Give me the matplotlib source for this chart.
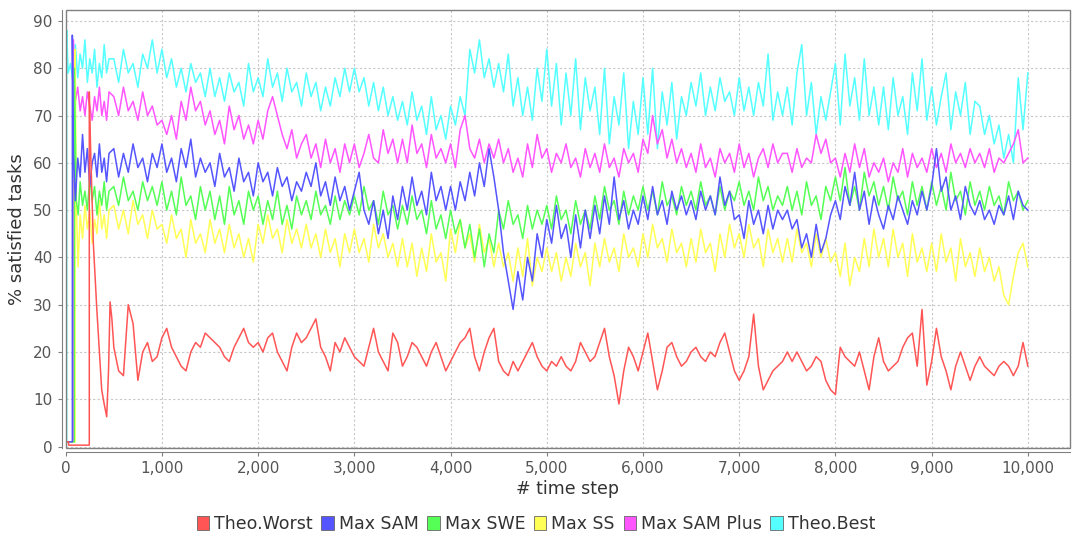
import numpy as np
import matplotlib
matplotlib.use("Agg")
import matplotlib.pyplot as plt
from matplotlib.patches import Patch, Rectangle
from matplotlib.ticker import StrMethodFormatter, MultipleLocator

# values (start-up part with irregular steps, then every 50 steps)
body_steps = np.arange(500, 10001, 50)

worst_head_t = [0, 30, 30, 245, 245, 260, 287, 322, 350, 374, 400, 426, 445, 461, 480]
worst_head_v = [1, 1, 0.3, 0.3, 75, 62, 43, 29.5, 20, 12, 9, 6.3, 16, 30.6, 27]
worst = [
    21, 16, 15, 30, 26, 14, 20, 22, 18, 19,
    23, 25, 21, 19, 17, 16, 20, 22, 21, 24,
    23, 22, 21, 19, 18, 21, 23, 25, 22, 21,
    22, 20, 23, 24, 20, 18, 16, 21, 24, 22,
    23, 25, 27, 21, 19, 16, 22, 20, 23, 21,
    19, 18, 17, 21, 25, 20, 18, 16, 24, 22,
    17, 19, 22, 21, 19, 17, 20, 22, 19, 16,
    18, 20, 22, 23, 25, 19, 16, 20, 23, 25,
    18, 16, 15, 18, 16, 18, 20, 22, 19, 17,
    16, 18, 17, 19, 17, 16, 18, 22, 20, 18,
    19, 22, 25, 19, 15, 9, 16, 21, 19, 16,
    20, 24, 18, 12, 16, 21, 22, 19, 17, 18,
    20, 21, 19, 18, 20, 19, 22, 24, 20, 16,
    14, 16, 19, 28, 17, 12, 14, 16, 17, 18,
    20, 18, 20, 18, 16, 17, 19, 18, 14, 12,
    11, 21, 19, 18, 17, 20, 16, 12, 19, 23,
    18, 16, 17, 18, 21, 23, 24, 17, 29, 13,
    18, 25, 19, 16, 12, 17, 20, 17, 14, 17,
    19, 17, 16, 15, 17, 18, 17, 15, 17, 22,
    17,
]

sam_head_t = [0, 69, 69, 80, 100, 125, 150, 175, 200, 225, 250, 275, 300, 325, 350, 375, 400, 425, 450]
sam_head_v = [1, 1, 87, 62, 52, 61, 57, 66, 58, 63, 55, 60, 62, 57, 64, 58, 61, 56, 62]
sam = [
    63, 57, 62, 58, 64, 59, 61, 56, 62, 59,
    64, 58, 61, 56, 63, 59, 65, 57, 61, 58,
    60, 55, 62, 57, 59, 54, 61, 56, 58, 53,
    60, 56, 58, 53, 59, 55, 57, 52, 56, 54,
    58, 55, 60, 53, 56, 51, 57, 52, 55, 50,
    54, 58, 50, 47, 52, 45, 50, 44, 53, 48,
    55, 50, 57, 51, 54, 49, 58, 52, 55, 50,
    55, 50, 56, 52, 58, 53, 60, 55, 63, 57,
    50, 41, 35, 29, 37, 31, 40, 35, 45, 40,
    48, 43, 51, 44, 47, 40, 49, 42, 50, 44,
    51, 45, 53, 47, 57, 48, 52, 46, 50, 47,
    53, 48, 55, 49, 52, 47, 54, 50, 53, 49,
    52, 48, 54, 50, 53, 49, 57, 51, 54, 48,
    49, 44, 52, 47, 50, 45, 51, 46, 50, 48,
    50, 46, 48, 42, 45, 40, 47, 41, 44, 49,
    52, 48, 55, 51, 58, 50, 54, 47, 53, 49,
    46, 51, 48, 53, 50, 47, 52, 49, 54, 50,
    55, 63, 54, 57, 50, 53, 48, 55, 51, 49,
    52, 48, 50, 47, 51, 49, 53, 48, 54, 51,
    50,
]

swe_head_t = [0, 90, 90, 110, 130, 150, 175, 200, 225, 250, 275, 300, 325, 350, 375, 400, 425, 450]
swe_head_v = [1, 1, 80, 52, 49, 56, 51, 54, 50, 57, 52, 55, 49, 54, 51, 56, 50, 54]
swe = [
    55, 51, 57, 52, 54, 50, 56, 52, 55, 51,
    56, 50, 54, 49, 57, 51, 53, 48, 55, 50,
    54, 48, 53, 47, 55, 49, 52, 47, 54, 50,
    53, 47, 52, 48, 54, 47, 51, 46, 53, 49,
    52, 48, 54, 49, 51, 47, 53, 48, 52, 49,
    53, 49, 55, 50, 52, 47, 54, 49, 51, 46,
    51, 47, 53, 48, 50, 45, 52, 46, 49, 44,
    50, 45, 48, 42, 47, 40, 46, 38, 45, 41,
    50, 46, 52, 47, 49, 44, 51, 46, 50, 47,
    51, 46, 53, 48, 50, 45, 52, 47, 50, 46,
    53, 48, 55, 50, 52, 47, 54, 49, 53, 50,
    55, 50, 54, 49, 56, 51, 53, 49, 55, 51,
    54, 50, 56, 51, 53, 49, 55, 50, 54, 52,
    56, 51, 54, 50, 57, 52, 55, 50, 53, 51,
    55, 50, 54, 49, 56, 51, 53, 48, 55, 52,
    57, 52, 59, 51, 55, 50, 58, 53, 56, 51,
    55, 50, 57, 52, 54, 49, 56, 51, 55, 50,
    56, 51, 55, 50, 58, 52, 54, 49, 56, 51,
    54, 50, 55, 51, 53, 49, 56, 52, 54, 50,
    52,
]

ss_head_t = [0, 97, 97, 110, 128, 150, 175, 200, 225, 250, 275, 300, 325, 350, 375, 400, 425, 450]
ss_head_v = [1, 1, 84, 52, 38, 49, 44, 51, 46, 50, 43, 48, 45, 52, 46, 49, 44, 50]
ss = [
    51, 46, 50, 45, 52, 47, 49, 44, 50, 46,
    47, 43, 49, 44, 46, 40, 48, 43, 45, 41,
    48, 43, 46, 41, 47, 42, 45, 40, 44, 39,
    47, 43, 49, 44, 46, 41, 48, 43, 46, 42,
    47, 42, 45, 40, 46, 41, 44, 38, 45, 41,
    46, 41, 44, 39, 47, 42, 45, 40, 43, 38,
    44, 38, 43, 36, 42, 37, 45, 39, 41, 35,
    46, 41, 48, 42, 45, 39, 47, 41, 44, 38,
    43, 38, 41, 35, 42, 36, 44, 34, 40, 37,
    42, 37, 41, 35, 40, 36, 43, 38, 41, 34,
    43, 38, 44, 39, 42, 37, 45, 40, 42, 38,
    45, 40, 47, 42, 44, 39, 46, 41, 43, 38,
    44, 39, 46, 41, 43, 37, 45, 40, 47, 42,
    45, 40, 47, 42, 44, 38, 46, 41, 44, 39,
    44, 39, 46, 41, 43, 38, 45, 40, 44, 39,
    41, 36, 43, 34, 40, 37, 44, 38, 46, 40,
    44, 38, 46, 40, 43, 36, 45, 39, 42, 37,
    43, 37, 45, 39, 42, 35, 44, 38, 41, 36,
    42, 37, 40, 35, 38, 32, 30, 36, 41, 43,
    38,
]

plus_head_t = [0, 80, 80, 100, 125, 150, 175, 200, 225, 250, 275, 300, 325, 350, 375, 400, 425, 450]
plus_head_v = [1, 1, 86, 73, 76, 71, 74, 70, 75, 72, 69, 74, 71, 76, 70, 73, 69, 75]
plus = [
    74, 70, 76, 71, 73, 69, 75, 70, 72, 68,
    69, 66, 70, 65, 73, 69, 76, 71, 73, 68,
    71, 66, 69, 64, 72, 67, 70, 65, 68, 64,
    69, 65, 71, 74, 70, 66, 63, 67, 61, 64,
    66, 61, 64, 59, 65, 60, 63, 58, 64, 60,
    64, 59, 62, 66, 61, 60, 67, 62, 65, 60,
    65, 60, 68, 62, 64, 59, 66, 61, 63, 60,
    64, 59, 67, 70, 63, 61, 65, 60, 64, 61,
    65, 60, 63, 58, 61, 57, 64, 59, 66, 61,
    63, 58, 62, 60, 64, 59, 61, 57, 63, 59,
    62, 58, 64, 59, 61, 57, 63, 60, 62, 58,
    65, 62, 70, 64, 67, 61, 65, 60, 63, 59,
    62, 58, 64, 59, 61, 57, 63, 60, 62, 58,
    64, 59, 62, 57, 61, 63, 59, 64, 60, 62,
    62, 58, 63, 59, 61, 60, 66, 62, 65, 60,
    61, 57, 62, 58, 64, 59, 63, 57, 60, 58,
    61, 56, 60, 58, 63, 57, 62, 59, 61, 58,
    63, 59, 62, 58, 64, 60, 62, 59, 63, 60,
    62, 59, 63, 58, 61, 60, 62, 64, 67, 60,
    61,
]

best_head_t = [0, 10, 10, 25, 50, 75, 100, 125, 150, 175, 200, 225, 250, 275, 300, 325, 350, 375, 400, 425, 450]
best_head_v = [1, 1, 88, 79, 81, 77, 85, 78, 83, 80, 86, 77, 82, 79, 84, 76, 81, 78, 85, 79, 82]
best = [
    82, 77, 84, 79, 81, 76, 83, 80, 86, 79,
    84, 78, 82, 76, 80, 75, 81, 77, 79, 74,
    80, 74, 78, 73, 79, 75, 77, 72, 81, 75,
    78, 74, 82, 76, 79, 73, 80, 75, 77, 72,
    79, 74, 77, 71, 76, 72, 78, 74, 80, 75,
    80, 75, 78, 72, 77, 71, 76, 70, 74, 69,
    73, 68, 75, 69, 72, 66, 74, 67, 70, 65,
    72, 68, 74, 70, 84, 79, 86, 78, 82, 76,
    81, 75, 83, 72, 78, 70, 76, 69, 80, 73,
    84, 72, 81, 68, 79, 70, 82, 67, 78, 71,
    76, 66, 80, 64, 74, 68, 79, 63, 73, 66,
    78, 66, 80, 63, 75, 68, 77, 65, 74, 70,
    77, 72, 79, 70, 76, 71, 78, 73, 75, 70,
    78, 71, 76, 70, 77, 72, 83, 69, 75, 70,
    76, 68, 79, 85, 70, 77, 66, 74, 69, 75,
    81, 68, 83, 72, 78, 69, 82, 70, 76, 68,
    76, 67, 78, 70, 74, 66, 79, 71, 82, 69,
    76, 68, 74, 79, 67, 75, 70, 77, 66, 73,
    72, 66, 70, 64, 68, 61, 66, 60, 78, 67,
    79,
]

labels = ['Theo.Worst', 'Max SAM', 'Max SWE', 'Max SS', 'Max SAM Plus', 'Theo.Best']
colors = ['#FF5555', '#5555FF', '#55FF55', '#FFFF55', '#FF55FF', '#55FFFF']
heads = [(worst_head_t, worst_head_v), (sam_head_t, sam_head_v), (swe_head_t, swe_head_v),
         (ss_head_t, ss_head_v), (plus_head_t, plus_head_v), (best_head_t, best_head_v)]
bodies = [worst, sam, swe, ss, plus, best]

fig = plt.figure(figsize=(10.72, 5.36), dpi=100)
ax = fig.add_axes([0.0613, 0.1642, 0.937, 0.817])

# JFreeChart draws the last series first
for i in range(len(labels) - 1, -1, -1):
    ht, hv = heads[i]
    t = np.concatenate([ht, body_steps])
    v = np.concatenate([hv, bodies[i]])
    ax.plot(t, v, color=colors[i], lw=1.1, zorder=3 + (len(labels) - i))

ax.set_xlim(0, 10440)
ax.set_ylim(-0.3, 92.3)
ax.xaxis.set_major_locator(MultipleLocator(1000))
ax.yaxis.set_major_locator(MultipleLocator(10))
ax.xaxis.set_major_formatter(StrMethodFormatter('{x:,.0f}'))

ax.grid(True, color='#c8c8c8', linestyle=(0, (2, 2)), lw=0.8)
ax.set_axisbelow(True)

for s in ['top', 'right']:
    ax.spines[s].set_visible(False)
for s in ['left', 'bottom']:
    ax.spines[s].set_position(('outward', 3))
    ax.spines[s].set_color('#808080')
ax.add_patch(Rectangle((0, 0), 1, 1, transform=ax.transAxes, fill=False,
                       edgecolor='#808080', lw=1, clip_on=False, zorder=20))

ax.tick_params(colors='#808080', labelcolor='#555555', labelsize=11, length=3)
ax.set_xlabel('# time step', fontsize=12.5, color='#333333', labelpad=3)
ax.set_ylabel('% satisfied tasks', fontsize=13, color='#333333', labelpad=5)

handles = [Patch(facecolor=c, edgecolor='#666666', lw=0.6) for c in colors]
fig.legend(handles, labels, loc='center', bbox_to_anchor=(0.5, 0.022), ncol=6,
           frameon=False, fontsize=12.5, handlelength=0.7, handleheight=0.9,
           handletextpad=0.3, columnspacing=0.5, labelcolor='#333333')

plt.savefig('out.png', dpi=100)
